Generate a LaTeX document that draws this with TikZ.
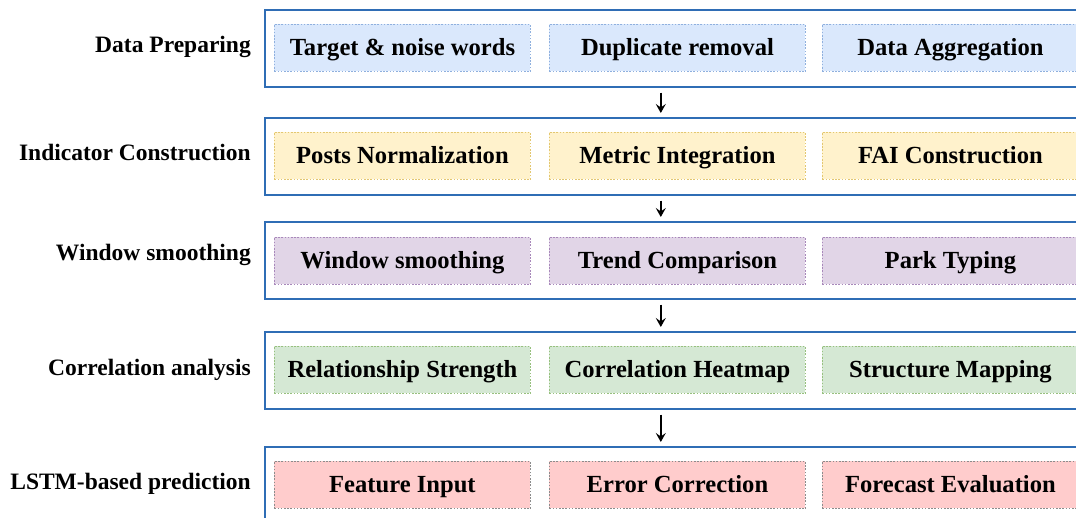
\documentclass[tikz,border=0pt]{standalone}
\usepackage{fontspec}
\setmainfont{Liberation Serif}
\usetikzlibrary{arrows.meta}

\definecolor{frameblue}{HTML}{2F6DB5}
\definecolor{blueFill}{HTML}{DAE8FC}\definecolor{blueLine}{HTML}{8FB0DE}
\definecolor{yelFill}{HTML}{FFF2CC}\definecolor{yelLine}{HTML}{E3C770}
\definecolor{purFill}{HTML}{E1D5E7}\definecolor{purLine}{HTML}{A888BA}
\definecolor{grnFill}{HTML}{D5E8D4}\definecolor{grnLine}{HTML}{97C07E}
\definecolor{redFill}{HTML}{FFCCCC}\definecolor{redLine}{HTML}{8C8C8C}

\tikzset{
  stage/.style={draw=frameblue, line width=1.6pt, minimum width=824pt,
    minimum height=77pt, inner sep=0pt, anchor=north west},
  cell/.style={line width=0.9pt, dash pattern=on 1.6pt off 1.6pt,
    minimum width=256pt, minimum height=47pt, inner sep=0pt,
    anchor=north west, text height=16.5pt, text depth=1.5pt,
    font=\fontsize{24.6}{29}\selectfont\bfseries},
  blue/.style={cell, fill=blueFill, draw=blueLine},
  yel/.style={cell, fill=yelFill, draw=yelLine},
  pur/.style={cell, fill=purFill, draw=purLine},
  grn/.style={cell, fill=grnFill, draw=grnLine},
  rose/.style={cell, fill=redFill, draw=redLine},
  phase/.style={anchor=base east, inner sep=0pt,
    font=\fontsize{23.5}{28}\selectfont\bfseries},
  flow/.style={-{Stealth[length=9pt,width=10pt,inset=3.5pt]}, line width=1.4pt,
    shorten <=5pt, shorten >=4pt}
}

\begin{document}
\begin{tikzpicture}[x=1pt,y=-1pt]
\useasboundingbox (0,0) rectangle (1076,518);
\clip (0,0) rectangle (1076,518);

% stage frames
\node[stage] (r1) at (264,9)   {};
\node[stage] (r2) at (264,117) {};
\node[stage] (r3) at (264,221) {};
\node[stage] (r4) at (264,331) {};
\node[stage] (r5) at (264,446) {};

% stage titles
\node[phase] (t1) at (251,53)  {Data Preparing};
\node[phase] (t2) at (251,161) {Indicator Construction};
\node[phase] (t3) at (251,261) {Window smoothing};
\node[phase] (t4) at (251,376) {Correlation analysis};
\node[phase] (t5) at (251,489) {LSTM-based prediction};

% row 1
\node[blue] (a1) at (274,24)  {Target \& noise words};
\node[blue] (a2) at (549,24)  {Duplicate removal};
\node[blue] (a3) at (822,24)  {Data Aggregation};
% row 2
\node[yel] (b1) at (274,132) {Posts Normalization};
\node[yel] (b2) at (549,132) {Metric Integration};
\node[yel] (b3) at (822,132) {FAI Construction};
% row 3
\node[pur] (c1) at (274,237) {Window smoothing};
\node[pur] (c2) at (549,237) {Trend Comparison};
\node[pur] (c3) at (822,237) {Park Typing};
% row 4
\node[grn] (d1) at (274,346) {Relationship Strength};
\node[grn] (d2) at (549,346) {Correlation Heatmap};
\node[grn] (d3) at (822,346) {Structure Mapping};
% row 5
\node[rose] (e1) at (274,461) {Feature Input};
\node[rose] (e2) at (549,461) {Error Correction};
\node[rose] (e3) at (822,461) {Forecast Evaluation};

% flow between stages
\draw[flow] ([xshift=-16pt]r1.south) -- ([xshift=-16pt]r2.north);
\draw[flow] ([xshift=-16pt]r2.south) -- ([xshift=-16pt]r3.north);
\draw[flow] ([xshift=-16pt]r3.south) -- ([xshift=-16pt]r4.north);
\draw[flow] ([xshift=-16pt]r4.south) -- ([xshift=-16pt]r5.north);
\end{tikzpicture}
\end{document}
